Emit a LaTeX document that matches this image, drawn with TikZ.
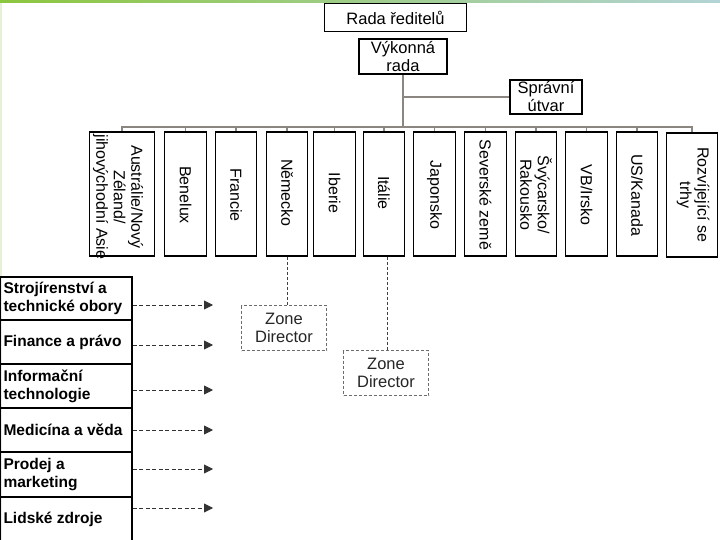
\documentclass[tikz,border=0pt]{standalone}
\usepackage{fontspec}
\setmainfont{Liberation Sans}
\usetikzlibrary{arrows.meta}
\definecolor{conngray}{HTML}{8C8680}
\definecolor{topgreen}{HTML}{8CC63F}
\definecolor{topteal}{HTML}{B2D4D6}
\definecolor{edgegreen}{HTML}{E6F1D8}
\begin{document}
\begin{tikzpicture}[x=1pt,y=-1pt,
  cbox/.style={draw=black, line width=1.8pt, minimum height=124pt, inner sep=0pt},
  ctext/.style={rotate=-90, font=\fontsize{16}{17.5}\selectfont, align=center, inner sep=0pt},
  topbox/.style={draw=black, inner sep=0pt, align=center, font=\fontsize{16.5}{18}\selectfont},
  fbox/.style={draw=black, line width=1.8pt, minimum width=132pt, inner xsep=3.5pt, inner ysep=0pt, text width=125pt, align=flush left, font=\bfseries\fontsize{15.5}{18}\selectfont},
  zdbox/.style={draw=gray!85!black, dash pattern=on 3pt off 2pt, line width=0.8pt, minimum width=85pt, minimum height=45pt, inner sep=0pt, align=center, font=\fontsize{16.5}{18.5}\selectfont, text=black!85},
  conn/.style={draw=conngray, line width=1.8pt},
  zconn/.style={draw=black!75, line width=0.8pt, dash pattern=on 3pt off 2pt},
  darr/.style={draw=black!80, line width=0.9pt, dash pattern=on 4pt off 2.5pt, -{Triangle[length=9pt,width=9pt]}}
]
\useasboundingbox (0,0) rectangle (720,540);
\fill[white] (0,0) rectangle (720,540);
% decorative edges
\shade[left color=topgreen, right color=topteal] (0,0) rectangle (720,3);
\fill[edgegreen] (0,3) rectangle (2,540);

% top boxes
\node[topbox, line width=1.2pt, minimum width=142pt, minimum height=28pt] (rada) at (395.5,17.5) {Rada ředitelů};
\node[topbox, line width=2.2pt, minimum width=88pt, minimum height=35pt] (vy) at (403,56.5) {Výkonná\\rada};
\node[topbox, line width=2pt, minimum width=72pt, minimum height=34pt] (spr) at (546,97) {Správní\\útvar};

% country boxes
\node[cbox, minimum width=65pt] (c1) at (122,194) {};
\node[cbox, minimum width=42pt] (c2) at (185.5,194) {};
\node[cbox, minimum width=41pt] (c3) at (236,194) {};
\node[cbox, minimum width=41pt] (c4) at (287,194) {};
\node[cbox, minimum width=42pt] (c5) at (334.5,194) {};
\node[cbox, minimum width=41pt] (c6) at (384,194) {};
\node[cbox, minimum width=42pt] (c7) at (434.5,194) {};
\node[cbox, minimum width=42pt] (c8) at (485.5,194) {};
\node[cbox, minimum width=41pt] (c9) at (536,194) {};
\node[cbox, minimum width=42pt] (c10) at (586.5,194) {};
\node[cbox, minimum width=41pt] (c11) at (637,194) {};
\node[cbox, minimum width=51pt, line width=1.4pt] (c12) at (692,195) {};

\node[ctext] (t1) at (118,197) {Austrálie/Nový\\Zéland/\\jihovýchodní Asie};
\node[ctext] (t2) at (185.5,195) {Benelux};
\node[ctext] (t3) at (236,195) {Francie};
\node[ctext] (t4) at (287,193) {Německo};
\node[ctext] (t5) at (334.5,193) {Iberie};
\node[ctext] (t6) at (384,193) {Itálie};
\node[ctext] (t7) at (434.5,195) {Japonsko};
\node[ctext] (t8) at (485.5,195) {Severské země};
\node[ctext] (t9) at (536,195) {Švýcarsko/\\Rakousko};
\node[ctext] (t10) at (586.5,195) {VB/Irsko};
\node[ctext] (t11) at (637,195) {US/Kanada};
\node[ctext] (t12) at (693,195) {Rozvíjející se\\trhy};

% gray connectors
\coordinate (bar) at (0,127);
\draw[conn] (vy.south) -- (vy.south |- bar);
\draw[conn] (vy.south |- spr.west) -- (spr.west);
\draw[conn, line cap=rect] (c1.north |- bar) -- (c12.north |- bar);
\foreach \n in {c1,c2,c3,c4,c5,c6,c7,c8,c9,c10,c11,c12}
  \draw[conn] (\n.north) -- (\n.north |- bar);

% zone directors
\node[zdbox] (zd1) at (284,328) {Zone\\Director};
\node[zdbox] (zd2) at (386,373) {Zone\\Director};
\draw[zconn] (c4.south) -- (c4.south |- zd1.north);
\draw[zconn] ([xshift=3pt]c6.south) -- ([xshift=3pt]c6.south |- zd2.north);

% functional boxes
\node[fbox, minimum height=43pt] (f1) at (66,298.5) {Strojírenství a\\technické obory};
\node[fbox, minimum height=44pt] (f2) at (66,342) {Finance a právo};
\node[fbox, minimum height=44pt] (f3) at (66,386) {Informační\\technologie};
\node[fbox, minimum height=44pt] (f4) at (66,430) {Medicína a věda};
\node[fbox, minimum height=45pt] (f5) at (66,474.5) {Prodej a\\marketing};
\node[fbox, minimum height=44pt] (f6) at (66,519) {Lidské zdroje};

\coordinate (a1) at (213,305);
\coordinate (a2) at (213,345);
\coordinate (a3) at (213,390);
\coordinate (a4) at (213,430);
\coordinate (a5) at (213,469);
\coordinate (a6) at (213,508);
\draw[darr] (f1.east |- a1) -- (a1);
\draw[darr] (f2.east |- a2) -- (a2);
\draw[darr] (f3.east |- a3) -- (a3);
\draw[darr] (f4.east |- a4) -- (a4);
\draw[darr] (f5.east |- a5) -- (a5);
\draw[darr] (f6.east |- a6) -- (a6);
\end{tikzpicture}
\end{document}
